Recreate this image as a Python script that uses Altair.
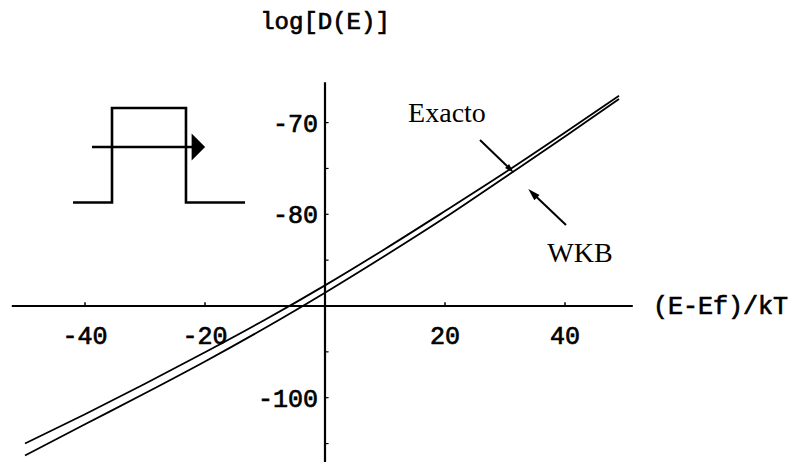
import altair as alt
import pandas as pd

# Transmission coefficient log[D(E)] versus (E-Ef)/kT, exact and WKB
energy = [-50, -40, -30, -20, -10, 0, 10, 20, 30, 40, 49]
exacto = [-105.0, -101.8, -98.48, -95.05, -91.5, -87.75, -83.78, -79.65, -75.45, -71.08, -67.08]
wkb = [-106.3, -102.9, -99.52, -96.05, -92.4, -88.55, -84.52, -80.35, -75.95, -71.52, -67.42]

x_ticks = [-40, -20, 20, 40]
y_ticks = [-100, -80, -70]
y_minor = [-105, -95, -85, -75]

# Axes cross at (0, -90)
x_origin = 0
y_origin = -90
x_axis_extent = [-52.2, 51.3]
y_axis_extent = [-108.0, -65.6]

# Barrier sketch (potential step profile) and the incident-wave arrow
barrier_x = [-42.0, -35.5, -35.5, -23.17, -23.17, -13.33]
barrier_y = [-78.71, -78.71, -68.41, -68.41, -78.71, -78.71]
wave_x = [-38.83, -22.0]
wave_y = -72.66
wave_head_x = -21.1

# Callouts: label, text anchor, pointer start and end
callout_text = ["Exacto", "WKB"]
callout_x = [20.33, 42.5]
callout_y = [-69.93, -85.2]
pointer_x = [25.83, 40.17]
pointer_y = [-71.9, -81.17]
pointer_x2 = [30.9, 34.6]
pointer_y2 = [-75.1, -77.7]
pointer_angle = [135, 315]
pointer_size = [90, 150]

X_DOMAIN = [-54.1667, 78.1667]
Y_DOMAIN = [-107.012, -56.630]

xs = alt.Scale(domain=X_DOMAIN, nice=False, zero=False)
ys = alt.Scale(domain=Y_DOMAIN, nice=False, zero=False)


def X(field="x"):
    return alt.X(f"{field}:Q", scale=xs, axis=None)


def Y(field="y"):
    return alt.Y(f"{field}:Q", scale=ys, axis=None)


MONO = "Liberation Mono"
SERIF = "Liberation Serif"
# slightly heavier monospace glyphs, like an old plotting font
MONO_STYLE = dict(font=MONO, color="black", stroke="black", strokeWidth=0.7)

curves = pd.DataFrame(
    [{"x": e, "y": v, "serie": "Exacto"} for e, v in zip(energy, exacto)]
    + [{"x": e, "y": v, "serie": "WKB"} for e, v in zip(energy, wkb)]
)

lines = alt.Chart(curves).mark_line(
    color="black", strokeWidth=1.8, interpolate="monotone"
).encode(x=X(), y=Y(), detail="serie:N")

axes_df = pd.DataFrame([
    {"x": x_axis_extent[0], "x2": x_axis_extent[1], "y": y_origin, "y2": y_origin},
    {"x": x_origin, "x2": x_origin, "y": y_axis_extent[0], "y2": y_axis_extent[1]},
])
axes = alt.Chart(axes_df).mark_rule(color="black", strokeWidth=2.2).encode(
    x=X(), x2="x2:Q", y=Y(), y2="y2:Q"
)

xtick_df = pd.DataFrame({"x": x_ticks, "y": y_origin, "y2": y_origin + 0.4})
xtick_marks = alt.Chart(xtick_df).mark_rule(color="black", strokeWidth=1.5).encode(
    x=X(), y=Y(), y2="y2:Q"
)
ytick_df = pd.DataFrame({"y": y_ticks + y_minor, "x": x_origin, "x2": x_origin + 0.6})
ytick_marks = alt.Chart(ytick_df).mark_rule(color="black", strokeWidth=1.2).encode(
    x=X(), x2="x2:Q", y=Y()
)

xlab_df = pd.DataFrame({"x": x_ticks, "y": y_origin, "t": [str(v) for v in x_ticks]})
xlabels = alt.Chart(xlab_df).mark_text(
    fontSize=25, align="center", baseline="alphabetic", dy=38, **MONO_STYLE
).encode(x=X(), y=Y(), text="t:N")

ylab_df = pd.DataFrame({"y": y_ticks, "x": x_origin, "t": [str(v) for v in y_ticks]})
ylabels = alt.Chart(ylab_df).mark_text(
    fontSize=25, align="right", baseline="alphabetic", dx=-7, dy=9, **MONO_STYLE
).encode(x=X(), y=Y(), text="t:N")

titles_df = pd.DataFrame([
    {"x": 0.0, "y": -59.8, "t": "log[D(E)]"},
    {"x": 54.67, "y": y_origin, "t": "(E-Ef)/kT"},
])
ytitle = alt.Chart(titles_df.iloc[[0]]).mark_text(
    fontSize=24, align="center", baseline="alphabetic", **MONO_STYLE
).encode(x=X(), y=Y(), text="t:N")
xtitle = alt.Chart(titles_df.iloc[[1]]).mark_text(
    fontSize=25, align="left", baseline="alphabetic", dy=8, **MONO_STYLE
).encode(x=X(), y=Y(), text="t:N")

barrier_df = pd.DataFrame({"x": barrier_x, "y": barrier_y, "o": range(len(barrier_x))})
barrier = alt.Chart(barrier_df).mark_line(color="black", strokeWidth=2.6).encode(
    x=X(), y=Y(), order="o:Q"
)
wave_df = pd.DataFrame({"x": [wave_x[0]], "x2": [wave_x[1]], "y": [wave_y]})
wave = alt.Chart(wave_df).mark_rule(color="black", strokeWidth=2.6).encode(
    x=X(), x2="x2:Q", y=Y()
)
wave_head = alt.Chart(pd.DataFrame({"x": [wave_head_x], "y": [wave_y]})).mark_point(
    shape="M -0.5 -1 L 0.5 0 L -0.5 1 Z", size=729, filled=True, color="black", opacity=1
).encode(x=X(), y=Y())

call_df = pd.DataFrame({
    "t": callout_text, "x": callout_x, "y": callout_y,
    "px": pointer_x, "py": pointer_y, "px2": pointer_x2, "py2": pointer_y2,
    "ang": pointer_angle, "sz": pointer_size,
})
call_text = alt.Chart(call_df).mark_text(
    font=SERIF, fontSize=28, align="center", baseline="alphabetic", color="black"
).encode(x=X(), y=Y(), text="t:N")
call_lines = alt.Chart(call_df).mark_rule(color="black", strokeWidth=2).encode(
    x=X("px"), y=Y("py"), x2="px2:Q", y2="py2:Q"
)
call_heads = alt.Chart(call_df).mark_point(
    shape="M 0 -1 L 0.6 1 L -0.6 1 Z", filled=True, color="black", opacity=1
).encode(
    x=X("px2"), y=Y("py2"),
    angle=alt.Angle("ang:Q", scale=None),
    size=alt.Size("sz:Q", scale=None, legend=None),
)

chart = alt.layer(
    axes, xtick_marks, ytick_marks, lines, xlabels, ylabels, ytitle, xtitle,
    barrier, wave, wave_head, call_lines, call_heads, call_text,
).properties(
    width=794, height=462,
    autosize=alt.AutoSizeParams(type="none"),
    padding=0,
    background="white",
).configure_view(stroke=None)

chart.save("out.html", embed_options={"renderer": "svg", "actions": False})
